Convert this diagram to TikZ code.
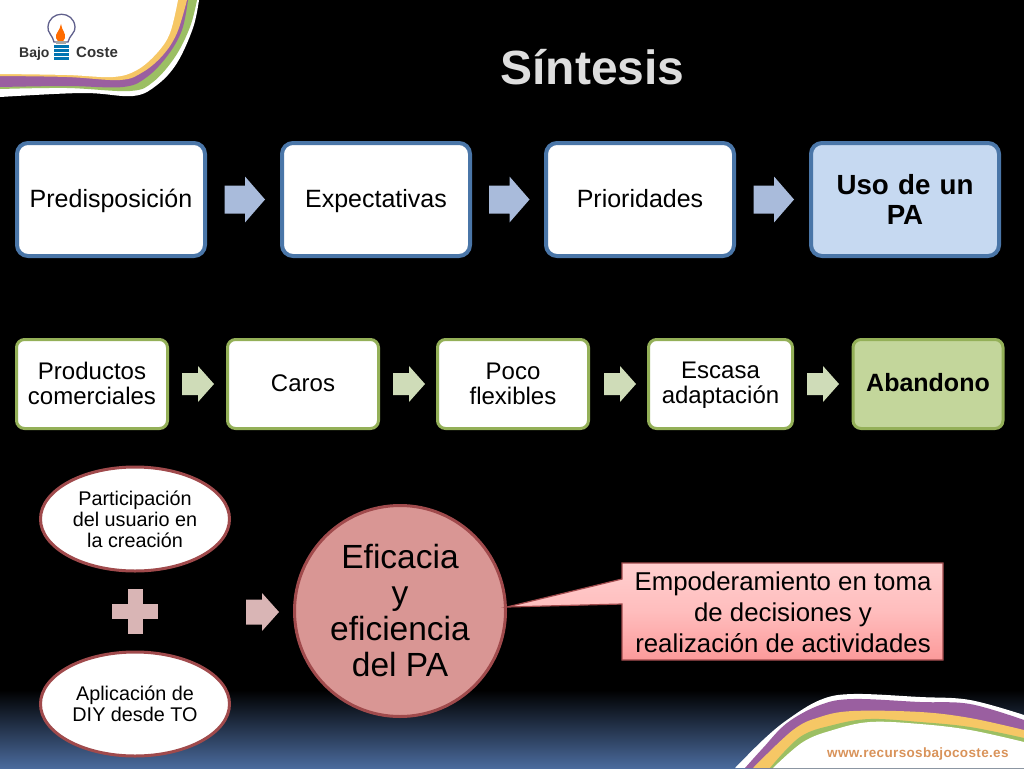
\documentclass[tikz,border=0pt]{standalone}
\usepackage{fontspec}
\setmainfont{Liberation Sans}
\usetikzlibrary{shapes.geometric}
\definecolor{bluebd}{HTML}{4A76A8}
\definecolor{bluefill}{HTML}{C6D9F1}
\definecolor{bluearr}{HTML}{A9BBDB}
\definecolor{greenbd}{HTML}{94B058}
\definecolor{greenfill}{HTML}{C3D69B}
\definecolor{greenarr}{HTML}{CFDCB8}
\definecolor{redbd}{HTML}{A04A4C}
\definecolor{redfill}{HTML}{D99694}
\definecolor{redarr}{HTML}{D9B5B5}
\definecolor{bgblue}{HTML}{4A6A9C}
\definecolor{stripegreen}{HTML}{9CBF63}
\definecolor{stripepurple}{HTML}{9A5FA0}
\definecolor{stripeyellow}{HTML}{F6C765}
\definecolor{urlorange}{HTML}{D9935A}
\definecolor{titlegray}{HTML}{DEDEDE}
\definecolor{calltop}{HTML}{FFCFCF}
\definecolor{callmid}{HTML}{FFBDBD}
\definecolor{callbot}{HTML}{FC9A9A}
\newcommand{\fsz}[2]{\fontsize{#1}{#2}\selectfont}
\newcommand{\sr}{\rule[-3pt]{0pt}{21pt}}
% colour, left x, head-start x, tip x, centre y, body half height, head half height
\newcommand{\blockarrow}[7]{\fill[#1] (#2,#5-#6) -- (#3,#5-#6) -- (#3,#5-#7) -- (#4,#5) -- (#3,#5+#7) -- (#3,#5+#6) -- (#2,#5+#6) -- cycle;}
\tikzset{
  bluebox/.style={draw=bluebd,line width=4pt,fill=white,rounded corners=11pt,minimum width=188pt,minimum height=113pt,text width=170pt,align=center,inner sep=0pt,font=\fsz{25}{32},text=black},
  greenbox/.style={draw=greenbd,line width=3pt,fill=white,rounded corners=8pt,minimum height=89pt,align=center,inner sep=0pt,font=\fsz{24}{25},text=black},
  oval/.style={ellipse,draw=redbd,line width=3pt,fill=white,minimum width=189pt,minimum height=104pt,inner sep=0pt,align=center,font=\fsz{19.8}{21},text=black},
}
\begin{document}
\begin{tikzpicture}[x=1pt,y=-1pt]
\useasboundingbox (0,0) rectangle (1024,768);
\fill[black] (0,0) rectangle (1024,768);
\shade[top color=black,bottom color=bgblue] (0,690) rectangle (1024,768);
% top-left banner
\fill[white] (0,0) -- plot[smooth,tension=.6] coordinates {(199,0) (193,28) (177,63) (157,85) (133,96) (83,93) (0,97)} -- cycle;
\fill[stripegreen] (0,0) -- plot[smooth,tension=.6] coordinates {(197,0) (190,27) (175,57) (153,82) (130,91) (67,88) (0,89)} -- cycle;
\fill[stripepurple] (0,0) -- plot[smooth,tension=.6] coordinates {(188,0) (182,30) (168,55) (147,77) (123,87) (67,86) (0,87)} -- cycle;
\fill[stripeyellow] (0,0) -- plot[smooth,tension=.6] coordinates {(187,0) (177,33) (163,55) (143,72) (120,80) (67,77) (0,76)} -- cycle;
\fill[white] (0,0) -- plot[smooth,tension=.6] coordinates {(178,0) (170,33) (157,53) (137,70) (113,77) (67,75) (0,74)} -- cycle;
% bulb logo
\draw[black!30!blue!25!gray,line width=1.3pt,fill=white] (54,42) .. controls (53,36) and (47,32) .. (48,27) .. controls (49,10) and (74,10) .. (75,27) .. controls (76,32) and (69,36) .. (68,42) -- cycle;
\fill[orange!85!red] (61,24) .. controls (62,31) and (66,33) .. (65,38) .. controls (64,43) and (57,43) .. (56,38) .. controls (55,33) and (60,31) .. (61,24) -- cycle;
\fill[gray!70] (56,41) rectangle (66,44);
\foreach \yy in {45,49,53,57}{\fill[blue!35!cyan!70!black] (54,\yy) rectangle (69,\yy+2.8);}
\node[font=\bfseries\fsz{14}{15},text=black!80,anchor=base west,inner sep=0pt] (bajo) at (19,57) {Bajo};
\node[font=\bfseries\fsz{15}{16},text=black!80,anchor=base west,inner sep=0pt] (coste) at (76,57) {Coste};
% bottom-right banner
\fill[white] plot[smooth,tension=.6] coordinates {(735,768) (763,740) (787,720) (820,700) (853,694) (920,697) (970,700) (1024,715)} -- (1024,768) -- cycle;
\fill[stripepurple] plot[smooth,tension=.6] coordinates {(745,768) (763,748) (787,723) (820,705) (853,699) (920,702) (970,704) (1024,720)} -- (1024,768) -- cycle;
\fill[stripeyellow] plot[smooth,tension=.6] coordinates {(753,768) (793,730) (820,717) (853,711) (920,712) (970,718) (1024,730)} -- (1024,768) -- cycle;
\fill[stripegreen] plot[smooth,tension=.6] coordinates {(770,768) (800,737) (833,725) (870,719) (920,722) (970,727) (1024,738)} -- (1024,768) -- cycle;
\fill[white] plot[smooth,tension=.6] coordinates {(773,768) (803,742) (833,730) (870,722) (920,724) (970,730) (1024,742)} -- (1024,768) -- cycle;
\node[font=\bfseries\fsz{13.5}{15}\addfontfeature{LetterSpace=2.5},text=urlorange,anchor=base west,inner sep=0pt] (url) at (827,757) {www.recursosbajocoste.es};
% title
\node[font=\bfseries\fsz{48}{52},text=titlegray,anchor=base,inner sep=0pt] (title) at (592.5,84) {Síntesis};
% row 1
\node[bluebox,text height=20pt,text depth=5pt] (p1) at (111,199.5) {Predisposición};
\node[bluebox,text height=20pt,text depth=5pt] (p2) at (376,199.5) {Expectativas};
\node[bluebox,text height=20pt,text depth=5pt] (p3) at (640,199.5) {Prioridades};
\node[bluebox,fill=bluefill,font=\bfseries\fsz{27.7}{30}] (p4) at (905,199.5) {Uso de un\\PA};
\blockarrow{bluearr}{224.5}{245}{265}{199.5}{14}{23}
\blockarrow{bluearr}{489}{509.5}{529.5}{199.5}{14}{23}
\blockarrow{bluearr}{753.5}{774}{794}{199.5}{14}{23}
% row 2
\node[greenbox,minimum width=151pt] (g1) at (92,384) {\sr Productos\\comerciales\sr};
\node[greenbox,minimum width=151pt] (g2) at (303,384) {\sr Caros};
\node[greenbox,minimum width=151pt] (g3) at (513,384) {\sr Poco\\flexibles\sr};
\node[greenbox,minimum width=144pt] (g4) at (720.5,384) {\sr Escasa\\adaptación\sr};
\node[greenbox,minimum width=150pt,fill=greenfill,font=\bfseries\fsz{25}{26}] (g5) at (928,384) {\sr Abandono};
\blockarrow{greenarr}{182}{198}{214}{384}{11}{18}
\blockarrow{greenarr}{393}{409}{425}{384}{11}{18}
\blockarrow{greenarr}{604}{620}{636}{384}{11}{18}
\blockarrow{greenarr}{807}{823}{839}{384}{11}{18}
% row 3
\node[oval] (o1) at (135,519) {Participación\\del usuario en\\la creación};
\node[oval] (o2) at (135,704) {Aplicación de\\DIY desde TO};
\fill[redarr] (127.5,589) rectangle (142.5,634);
\fill[redarr] (112,604) rectangle (158,619);
\blockarrow{redarr}{246}{262}{279}{612}{12.5}{19}
\node[circle,draw=redbd,line width=3pt,fill=redfill,minimum size=211pt,inner sep=0pt,align=center,font=\fsz{33.5}{36},text=black] (big) at (400,611) {Eficacia\\y\\eficiencia\\del PA};
% callout
\path[draw=redbd,line width=1.2pt,top color=calltop,bottom color=callbot,middle color=callmid] (622,563) -- (943,563) -- (943,660) -- (622,660) -- (622,604) -- (507,607) -- (622,579) -- cycle;
\node[font=\fsz{25.8}{31},align=center,text=black,inner sep=0pt] (ct) at (783,612.5) {Empoderamiento en toma\\de decisiones y\\realización de actividades};
\end{tikzpicture}
\end{document}
